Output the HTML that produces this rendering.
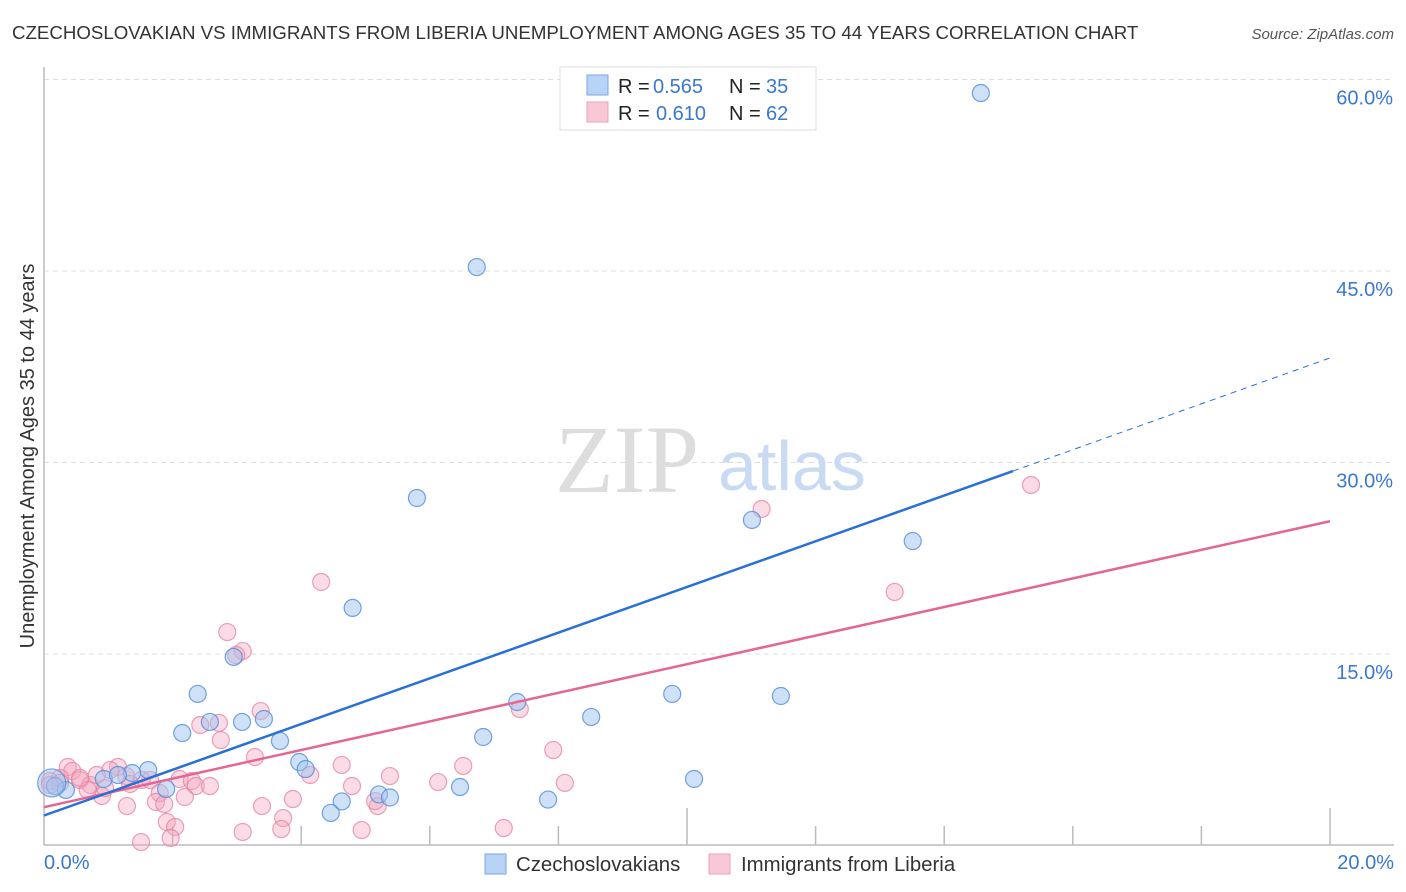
<!DOCTYPE html>
<html><head><meta charset="utf-8"><style>
body{margin:0;background:#fff;font-family:"Liberation Sans",sans-serif;}
svg{display:block}
</style></head><body>
<svg id="c" width="1406" height="892">
<text x="12" y="39" font-size="18.7" fill="#333">CZECHOSLOVAKIAN VS IMMIGRANTS FROM LIBERIA UNEMPLOYMENT AMONG AGES 35 TO 44 YEARS CORRELATION CHART</text>
<text x="1394" y="39" font-size="15" fill="#555" text-anchor="end" font-style="italic">Source: ZipAtlas.com</text>
<g id="grid"></g>
<text x="555" y="492" font-size="96" fill="#ddd" font-family="Liberation Serif,serif">ZIP</text>
<text x="718" y="490" font-size="70" fill="#c8dbf3">atlas</text>
<g id="pts"></g>
<g id="lines"></g>
<text transform="translate(34,456) rotate(-90)" font-size="20" fill="#333" text-anchor="middle">Unemployment Among Ages 35 to 44 years</text>
<text x="44" y="869" font-size="20" fill="#3a78d0">0.0%</text>
<text x="1394" y="869" font-size="20" fill="#3a78d0" text-anchor="end">20.0%</text>
<g>
<rect x="560" y="67" width="256" height="63" fill="#fff" stroke="#ddd"/>
<rect x="587" y="75" width="21" height="20" fill="#b8d3f5" stroke="#7aa6e0"/>
<rect x="587" y="102" width="21" height="20" fill="#f9c8d6" stroke="#eca0b8"/>
<text x="618" y="93" font-size="20" fill="#222">R = <tspan x="653" fill="#3a78d0">0.565</tspan><tspan x="729">N = </tspan><tspan x="766" fill="#3a78d0">35</tspan></text>
<text x="618" y="120" font-size="20" fill="#222">R = <tspan x="656" fill="#3a78d0">0.610</tspan><tspan x="729">N = </tspan><tspan x="766" fill="#3a78d0">62</tspan></text>
</g>
<g>
<rect x="485" y="854" width="21" height="20" fill="#b8d3f5" stroke="#7aa6e0"/>
<text x="516" y="871" font-size="20.4" fill="#333">Czechoslovakians</text>
<rect x="709" y="854" width="21" height="20" fill="#f9c8d6" stroke="#eca0b8"/>
<text x="741" y="871" font-size="20.4" fill="#333">Immigrants from Liberia</text>
</g>
</svg>
<script>
const yTicks=[15,30,45,60];
const yTickLabels=["15.0%","30.0%","45.0%","60.0%"];
const xTicks=[2,4,6,8,10,12,14,16,18,20];
const blueX=[14.57,6.73,5.80,11.01,13.51,4.80,2.95,2.39,9.77,11.46,7.36,2.15,8.51,2.58,3.08,3.42,3.67,6.83,3.97,4.07,1.62,1.37,0.93,10.11,6.47,1.90,0.34,5.21,5.38,4.63,7.84,4.46,1.15,0.17,0.12];
const blueY=[58.94,45.31,27.22,25.50,23.85,18.61,14.77,11.87,11.87,11.71,11.24,8.81,10.07,9.68,9.68,9.91,8.19,8.50,6.54,5.99,5.91,5.68,5.21,5.21,4.58,4.43,4.35,4.00,3.76,3.45,3.60,2.55,5.52,4.66,4.90];
const pinkX=[15.35,11.16,13.23,4.31,2.85,3.09,2.99,3.37,2.43,2.72,7.40,2.75,7.92,3.28,6.52,4.63,4.14,5.38,6.13,8.10,4.79,0.37,0.44,1.15,0.56,0.72,1.03,1.28,1.52,1.65,2.11,2.30,2.36,2.58,1.80,0.90,2.19,1.74,1.29,1.87,3.87,3.39,5.19,5.15,1.91,2.04,3.72,3.69,3.09,4.94,7.15,1.51,1.97,0.25,0.09,0.82,0.68,1.34,0.25,0.95,0.09,0.56];
const pinkY=[28.24,26.36,19.86,20.64,16.72,15.23,14.92,10.53,9.44,9.60,10.69,8.26,7.48,6.93,6.23,6.31,5.52,5.44,4.97,4.90,4.66,6.15,5.84,6.15,5.13,4.74,5.91,5.44,5.13,5.13,5.21,5.05,4.66,4.66,4.11,3.88,3.80,3.41,3.09,3.25,3.64,3.09,3.09,3.48,1.84,1.45,2.15,1.29,1.06,1.21,1.37,0.27,0.59,5.29,5.05,5.52,4.35,4.82,4.90,4.50,4.74,5.29];
const blueLine=[[0,2.35],[15.07,29.33]];
const blueDash=[[15.07,29.33],[20,38.19]];
const pinkLine=[[0,3.0],[20,25.4]];
const NS="http://www.w3.org/2000/svg";
const X=v=>44+v/20*1286, Y=v=>845.5-v/15*191.5;
function mk(t,a,p){const e=document.createElementNS(NS,t);for(const k in a)e.setAttribute(k,a[k]);p.appendChild(e);return e;}
const g=document.getElementById('grid');
yTicks.forEach((t,i)=>{
 const l=mk('line',{x1:44,x2:1394,y1:Y(t),y2:Y(t),stroke:'#ddd','stroke-dasharray':'5,4'},g);
 
 
 const tx=mk('text',{x:1393,y:Y(t)+25,'font-size':20,fill:'#3a78d0','text-anchor':'end'},g);
 tx.textContent=yTickLabels[i];
 
 
});
const ax=mk('line',{x1:44,x2:44,y1:67,y2:845,stroke:'#bbb','stroke-width':1.5},g);


const bx=mk('line',{x1:44,x2:1394,y1:845,y2:845,stroke:'#bbb','stroke-width':1.5},g);


xTicks.forEach((t,i)=>{
 const h=(t%10===0)?37:19;
 const l=mk('line',{x1:X(t),x2:X(t),y1:845-h,y2:845,stroke:'#bbb','stroke-width':1.5},g);
 
 
});
const p=document.getElementById('pts');
function dots(xs,ys,fill,stroke,name){xs.forEach((x,i)=>{
 const r=(name==='czech-point'&&i===xs.length-1)?14:8.5;
 const c=mk('circle',{cx:X(x),cy:Y(ys[i]),r:r,fill:fill,stroke:stroke,'stroke-width':1.2},p);
 
 
});}
dots(pinkX,pinkY,'rgba(244,165,190,0.4)','rgba(230,130,160,0.75)','liberia-point');
dots(blueX,blueY,'rgba(160,196,240,0.5)','rgba(80,140,220,0.8)','czech-point');
const L=document.getElementById('lines');
function ln(d,col,name,dash){const l=mk('line',{x1:X(d[0][0]),y1:Y(d[0][1]),x2:X(d[1][0]),y2:Y(d[1][1]),stroke:col,'stroke-width':dash?1:2.5},L);
 if(dash)l.setAttribute('stroke-dasharray','6,5');
 
 }
ln(pinkLine,'#e56690','liberia-trend-line');
ln(blueLine,'#2870d8','czech-trend-line');
ln(blueDash,'#2870d8','czech-trend-extension',true);
</script>
</body></html>
